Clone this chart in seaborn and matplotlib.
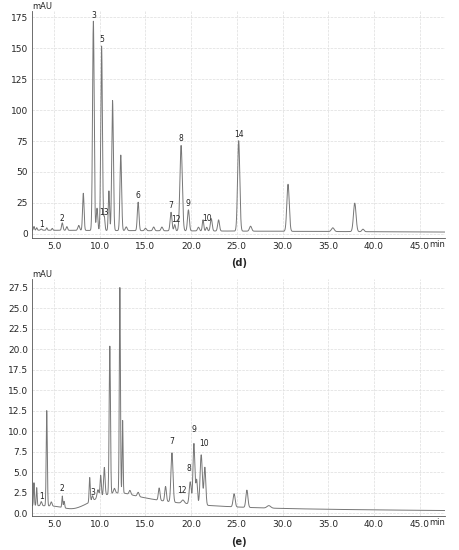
import numpy as np
import matplotlib
matplotlib.use("Agg")
import matplotlib.pyplot as plt
import seaborn as sns

# peak lists: retention time (min), height (mAU), width (min)
d_times = [2.8, 3.1, 3.6, 4.2, 4.8, 5.9, 6.4, 7.7, 8.2, 9.3, 9.7, 10.2, 10.5, 11.0, 11.4, 12.3, 12.9,
           14.2, 15.0, 15.9, 16.8, 17.8, 18.2, 18.9, 19.7, 20.8, 21.3, 21.7, 22.2, 23.0, 25.2, 26.5,
           30.6, 35.5, 37.9, 38.8]
d_heights = [3, 2, 1, 2, 1.5, 6, 3, 4, 30, 169, 18, 149, 11, 32, 105, 61, 3,
             23, 2, 3, 3, 15, 5, 69, 17, 3, 9, 3, 10, 9, 73, 4,
             38, 3, 23, 2]
d_widths = [0.06, 0.06, 0.08, 0.06, 0.06, 0.08, 0.08, 0.1, 0.08, 0.09, 0.08, 0.09, 0.07, 0.07, 0.09, 0.09, 0.1,
            0.09, 0.1, 0.1, 0.1, 0.1, 0.08, 0.13, 0.1, 0.1, 0.08, 0.08, 0.1, 0.1, 0.12, 0.12,
            0.13, 0.15, 0.14, 0.12]
d_labels = {"1": (3.6, 4), "2": (5.9, 9), "3": (9.3, 173), "5": (10.2, 153), "13": (10.5, 14),
            "6": (14.2, 27), "7": (17.8, 19), "12": (18.3, 8), "8": (18.9, 73), "9": (19.7, 21),
            "10": (21.7, 9), "14": (25.2, 77)}

e_times = [2.8, 3.1, 3.6, 4.2, 4.7, 5.9, 6.1, 8.9, 9.2, 9.8, 10.1, 10.5, 11.1, 11.6, 12.2, 12.5, 13.3,
           14.2, 16.5, 17.2, 17.9, 19.1, 19.9, 20.3, 20.6, 21.1, 21.5, 24.7, 26.1, 28.5]
e_heights = [2.8, 2.2, 0.5, 11.6, 0.5, 1.4, 0.8, 3.0, 0.6, 1.0, 2.6, 3.4, 18.0, 0.6, 25.0, 8.8, 0.5,
             0.5, 1.5, 1.8, 6.0, 0.4, 2.7, 7.4, 3.0, 6.1, 4.6, 1.6, 2.1, 0.3]
e_widths = [0.05, 0.05, 0.08, 0.06, 0.08, 0.05, 0.06, 0.06, 0.08, 0.1, 0.07, 0.08, 0.07, 0.1, 0.06, 0.05, 0.1,
            0.1, 0.09, 0.09, 0.11, 0.15, 0.11, 0.1, 0.09, 0.12, 0.1, 0.11, 0.11, 0.2]
e_labels = {"1": (3.6, 1.5), "2": (5.9, 2.5), "3": (9.2, 2.0), "7": (17.9, 8.2), "12": (19.0, 2.2),
            "8": (19.8, 4.9), "9": (20.3, 9.7), "10": (21.4, 8.0)}

t = np.linspace(2.6, 47.8, 6000)


def trace(times, heights, widths, base):
    y = base.copy()
    for c, h, w in zip(times, heights, widths):
        y += h * np.exp(-0.5 * ((t - c) / w) ** 2)
    return y


d_base = 3.0 - 1.5 * (t - 2.6) / 45
rise = 1 / (1 + np.exp(-(t - 9.5) / 0.8))
e_base = (0.95 - 0.4 * np.exp(-0.5 * ((t - 7) / 1.0) ** 2)
          + rise * (1.9 * np.exp(-(np.clip(t - 12.5, 0, None)) / 6.0) - 0.2)
          - 0.4 * (t - 2.6) / 45)

sns.set_style("white")
fig = plt.figure(figsize=(4.59, 5.5), dpi=100)
ax1 = fig.add_axes([0.07, 0.568, 0.90, 0.412])
ax2 = fig.add_axes([0.07, 0.062, 0.90, 0.43])

panels = [
    (ax1, trace(d_times, d_heights, d_widths, d_base), d_labels, (-3, 180), [0, 25, 50, 75, 100, 125, 150, 175], "{:.0f}", "(d)"),
    (ax2, trace(e_times, e_heights, e_widths, e_base), e_labels, (-0.3, 28.5), np.arange(0, 27.6, 2.5), "{:.1f}", "(e)"),
]
for ax, y, labels, ylim, yt, fmt, tag in panels:
    sns.lineplot(x=t, y=y, ax=ax, color="#777777", linewidth=0.7)
    ax.set_xlim(2.6, 47.8)
    ax.set_ylim(*ylim)
    xt = np.arange(5, 46, 5)
    ax.set_xticks(xt)
    ax.set_xticklabels([f"{v:.1f}" for v in xt], fontsize=6.5)
    ax.set_yticks(yt)
    ax.set_yticklabels([fmt.format(v) for v in yt], fontsize=6.5)
    ax.grid(True, color="#dddddd", linewidth=0.5, linestyle="--")
    ax.tick_params(length=2, pad=1)
    for s in ["top", "right"]:
        ax.spines[s].set_visible(False)
    for s in ["left", "bottom"]:
        ax.spines[s].set_color("#555555")
        ax.spines[s].set_linewidth(0.6)
    for k, (x, yy) in labels.items():
        ax.text(x, yy, k, fontsize=5.5, ha="center", va="bottom", color="#222222")
    ax.text(0.0, 1.0, "mAU", transform=ax.transAxes, fontsize=6, ha="left", va="bottom")
    ax.text(1.0, -0.01, "min", transform=ax.transAxes, fontsize=6, ha="right", va="top")
    ax.text(0.5, -0.09, tag, transform=ax.transAxes, fontsize=7, ha="center", va="top", fontweight="bold")

fig.savefig("out.png", dpi=100)
